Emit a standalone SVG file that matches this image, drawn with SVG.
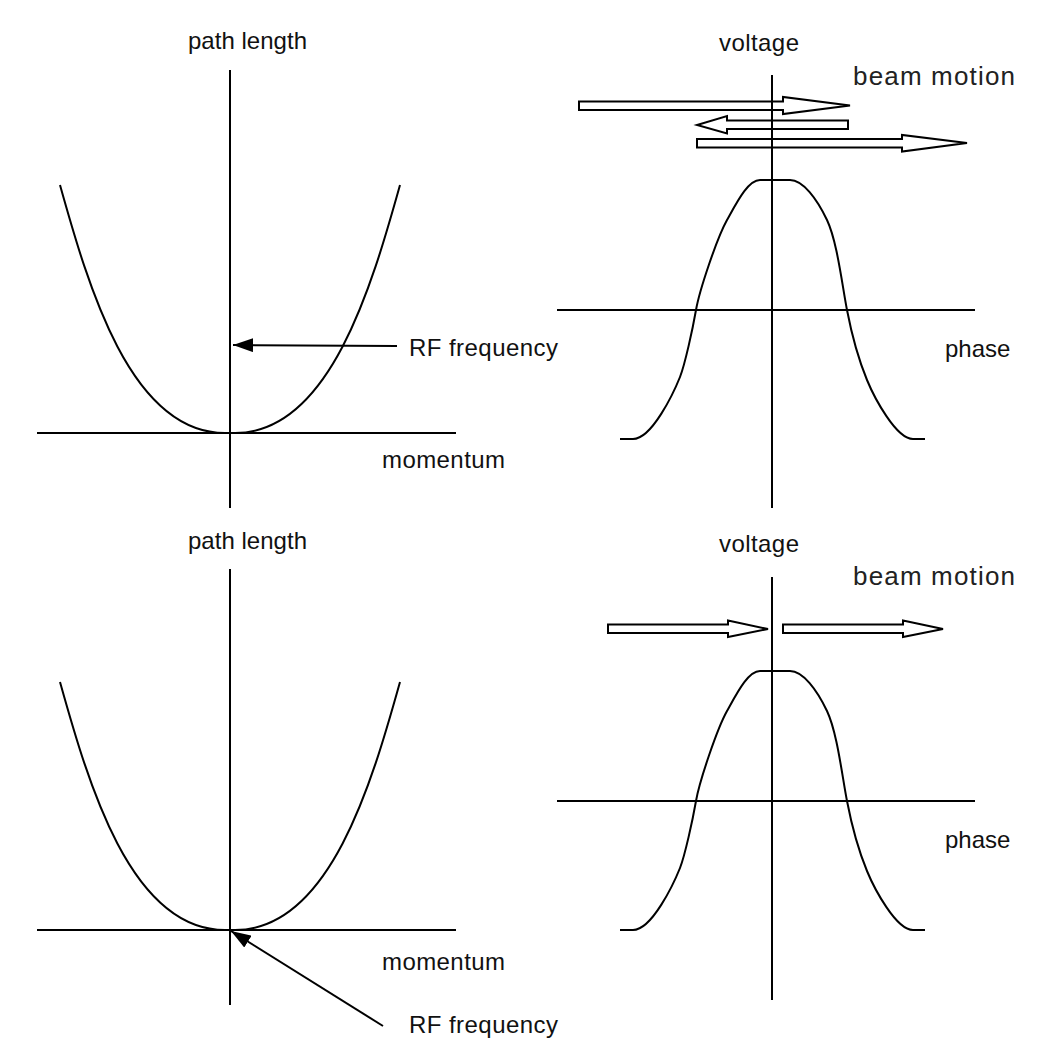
<svg xmlns="http://www.w3.org/2000/svg" width="1052" height="1042" viewBox="0 0 1052 1042">
<style>
.ax{stroke:#000;stroke-width:2;fill:none}
.cv{stroke:#000;stroke-width:2;fill:none;stroke-linejoin:round}
.ba{stroke:#000;stroke-width:2;fill:none;stroke-linejoin:miter}
.t{font-family:"Liberation Sans",Arial,sans-serif;font-size:24px;fill:#111}
.tb{font-family:"Liberation Sans",Arial,sans-serif;font-size:26px;fill:#222}
</style>
<defs>
<marker id="ah" viewBox="0 0 20 14" refX="20" refY="7" markerWidth="20" markerHeight="14" markerUnits="userSpaceOnUse" orient="auto">
<path d="M0,0 L20,7 L0,14 z" fill="#000"/>
</marker>
<path id="parab" d="M60,185 C88,285 130,433 225,433 L235,433 C330,433 372,285 400,185"/>
<path id="volt" d="M620,439 L633,439 C652,439 674,392 680,377 C685,364 692.5,330 696,310 C699.5,290 717,238 727,220 C737,202 748,180 760,180 L790,180 C803,180 817,199 827,220 C837,241 842,284 847,310 C852,336 860,363 867,380 C874,397 896,439 913,439 L925,439"/>
</defs>
<rect width="1052" height="1042" fill="#fff"/>

<g id="panel-top-left">
<line class="ax" x1="230" y1="70" x2="230" y2="508"/>
<line class="ax" x1="37" y1="433" x2="456" y2="433"/>
<use href="#parab" class="cv"/>
<text class="t" x="188" y="49" textLength="119" lengthAdjust="spacing">path length</text>
<text class="t" x="382" y="468" textLength="123" lengthAdjust="spacing">momentum</text>
<text class="t" x="409" y="356" textLength="149" lengthAdjust="spacing">RF frequency</text>
</g>

<g id="panel-top-right">
<line class="ax" x1="772" y1="75" x2="772" y2="508"/>
<line class="ax" x1="557" y1="310" x2="975" y2="310"/>
<use href="#volt" class="cv"/>
<text class="t" x="719" y="51" textLength="80" lengthAdjust="spacing">voltage</text>
<text class="tb" x="853" y="85" textLength="162" lengthAdjust="spacing">beam motion</text>
<text class="t" x="945" y="357">phase</text>
<polygon class="ba" points="579,101.5 783,101.5 783,97 850,105.5 783,114 783,110 579,110"/>
<polygon class="ba" points="848,120.5 727,120.5 727,116 697,125 727,133.5 727,129 848,129"/>
<polygon class="ba" points="697,139 902,139 902,135 967,143 902,151.5 902,147.5 697,147.5"/>
</g>

<g id="panel-bottom-left">
<line class="ax" x1="230" y1="569" x2="230" y2="1005"/>
<line class="ax" x1="37" y1="930" x2="456" y2="930"/>
<use href="#parab" class="cv" transform="translate(0,497)"/>
<text class="t" x="188" y="549" textLength="119" lengthAdjust="spacing">path length</text>
<text class="t" x="382" y="970" textLength="123" lengthAdjust="spacing">momentum</text>
<text class="t" x="409" y="1033" textLength="149" lengthAdjust="spacing">RF frequency</text>
</g>

<g id="panel-bottom-right">
<line class="ax" x1="772" y1="577" x2="772" y2="1000"/>
<line class="ax" x1="557" y1="801" x2="975" y2="801"/>
<use href="#volt" class="cv" transform="translate(0,491)"/>
<text class="t" x="719" y="552" textLength="80" lengthAdjust="spacing">voltage</text>
<text class="tb" x="853" y="585" textLength="162" lengthAdjust="spacing">beam motion</text>
<text class="t" x="945" y="848">phase</text>
<polygon class="ba" points="608,624.5 728,624.5 728,620.5 768,629 728,637 728,633 608,633"/>
<polygon class="ba" points="783,624.5 903,624.5 903,620.5 943,629 903,637 903,633 783,633"/>
</g>

<g id="connectors">
<line x1="397" y1="346" x2="233" y2="345" stroke="#000" stroke-width="2" marker-end="url(#ah)"/>
<line x1="383" y1="1026" x2="231" y2="931" stroke="#000" stroke-width="2" marker-end="url(#ah)"/>
</g>
</svg>
